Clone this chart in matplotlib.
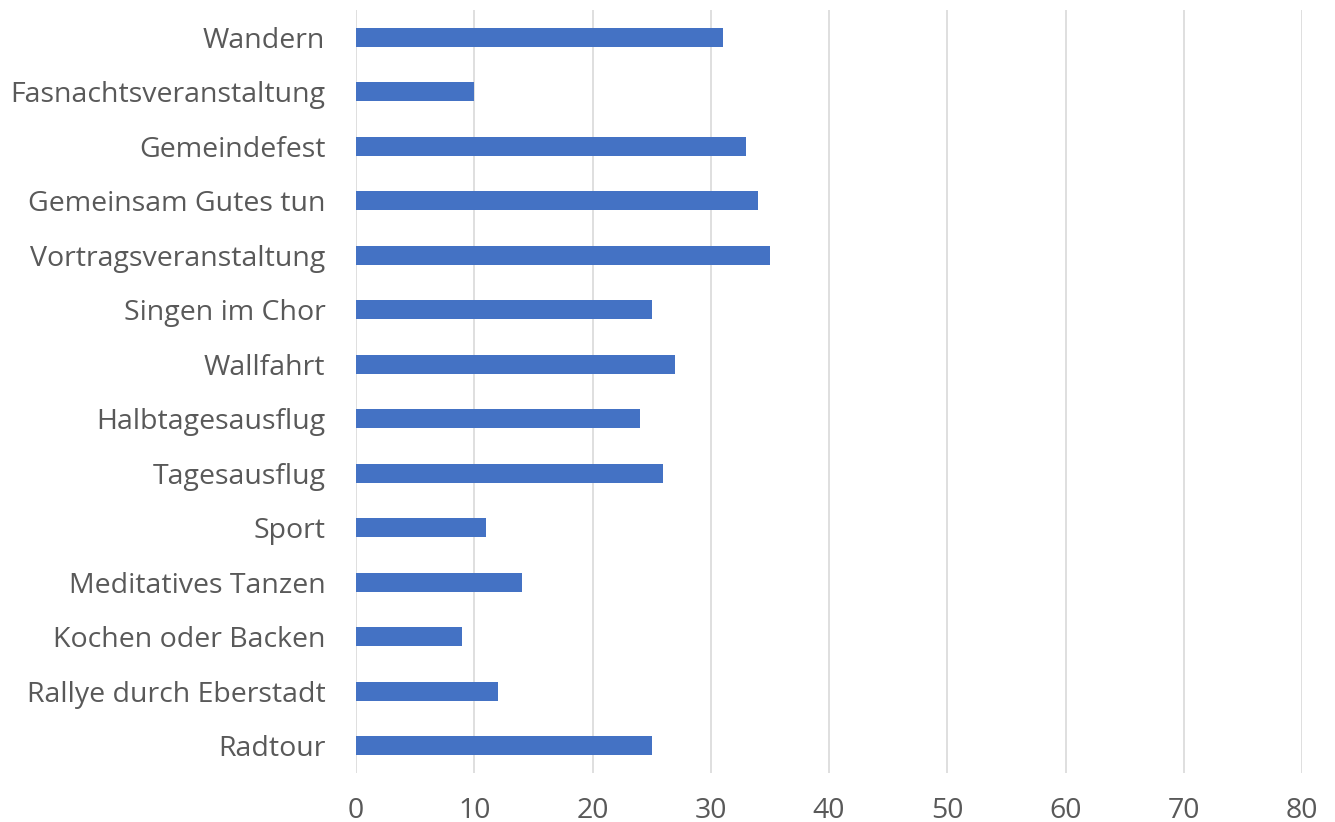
import matplotlib.pyplot as plt

# categories top to bottom as shown in the chart
categories = ['Wandern', 'Fasnachtsveranstaltung', 'Gemeindefest', 'Gemeinsam Gutes tun',
              'Vortragsveranstaltung', 'Singen im Chor', 'Wallfahrt', 'Halbtagesausflug',
              'Tagesausflug', 'Sport', 'Meditatives Tanzen', 'Kochen oder Backen',
              'Rallye durch Eberstadt', 'Radtour']
values = [31, 10, 33, 34, 35, 25, 27, 24, 26, 11, 14, 9, 12, 25]
x_ticks = [0, 10, 20, 30, 40, 50, 60, 70, 80]

plt.rcParams['font.family'] = ['Open Sans', 'DejaVu Sans']

fig = plt.figure(figsize=(13.35, 8.22), dpi=100)
ax = fig.add_axes([356 / 1335, 1 - 773 / 822, (1302 - 356) / 1335, (773 - 10) / 822])

pos = list(range(len(categories)))
ax.barh(pos, values, height=0.35, color='#4472C4', zorder=3)

ax.set_ylim(len(categories) - 0.5, -0.5)
ax.set_xlim(0, 80)
ax.set_yticks(pos)
ax.set_yticklabels(categories)
ax.set_xticks(x_ticks)

ax.grid(axis='x', color='#D9D9D9', linewidth=1.2, zorder=0)
for s in ax.spines.values():
    s.set_visible(False)
ax.tick_params(axis='both', length=0, labelsize=20.5, colors='#595959')
ax.tick_params(axis='y', pad=22)
ax.tick_params(axis='x', pad=17)

fig.savefig('out.png', dpi=100)
